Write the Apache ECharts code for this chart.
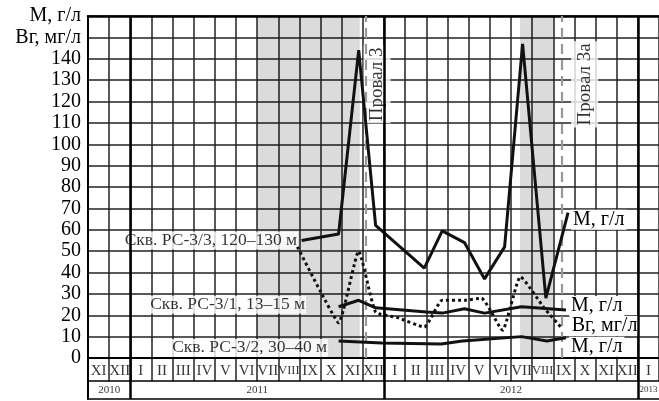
<!DOCTYPE html>
<html>
<head>
<meta charset="utf-8">
<script src="https://cdn.jsdelivr.net/npm/echarts@6/dist/echarts.min.js"></script>
<style>html,body{margin:0;padding:0;background:#fff}#c{width:659px;height:401px}</style>
</head>
<body>
<div id="c"></div>
<script>
// ---- data (x = months counted from the start of XI 2010) ----
const months = ['XI','XII','I','II','III','IV','V','VI','VII','VIII','IX','X','XI','XII','I','II','III','IV','V','VI','VII','VIII','IX','X','XI','XII','I'];
const years = ['2010','2011','2012','2013'];
const yTopLabels = {160: 'М, г/л', 150: 'Вг, мг/л'};

const m33X = [10.1, 11.85, 12.8, 13.6, 15.9, 16.75, 17.8, 18.75, 19.7, 20.55, 21.65, 22.7];
const m33Y = [55, 58, 144, 62, 42, 59.5, 54, 37, 52, 147, 28, 68];
const br33X = [9.9, 11.0, 11.85, 12.8, 13.6, 14.6, 15.9, 16.75, 17.8, 18.6, 19.6, 20.45, 21.6, 22.4];
const br33Y = [52, 31, 16.5, 50, 21.5, 19, 14.5, 27, 27, 28, 13, 38, 23, 14];
const m31X = [11.85, 12.8, 13.6, 16.0, 16.75, 17.8, 18.75, 20.5, 22.6];
const m31Y = [24, 27, 23.5, 21.5, 21, 23, 21, 24, 22.5];
const m32X = [11.85, 13.9, 16.7, 17.7, 20.5, 21.7, 22.6];
const m32Y = [8, 7, 6.5, 8, 10, 8, 9.5];

const lowPeriods = [[8.0, 12.85], [20.43, 22.0]];
const dipX = [13.15, 22.42];
const dipNames = ['Провал 3', 'Провал 3а'];
const wellNames = ['Скв. РС-3/3, 120–130 м', 'Скв. РС-3/1, 13–15 м', 'Скв. РС-3/2, 30–40 м'];

// ---- derived ----
const zip = (xs, ys) => xs.map((x, i) => [x, ys[i]]);
const yearStarts = months.map((m, i) => (i === 0 || m === 'I') ? i : -1).filter(i => i >= 0);
const yearBounds = yearStarts.filter(i => i > 0);
const N = months.length;

const FONT = "'Liberation Serif', 'Times New Roman', serif";
const GRID_C = '#222';
const L = 88, W = 572;

const hiddenY = (gi) => ({type: 'value', gridIndex: gi, min: 0, max: 1,
  axisLine: {show: true, lineStyle: {color: '#000', width: 2}},
  axisTick: {show: false}, axisLabel: {show: false}, splitLine: {show: false}});

const yearLine = (z) => ({
  silent: true, symbol: 'none', label: {show: false},
  lineStyle: {color: '#000', type: 'solid', width: 2.5},
  data: yearBounds.map(v => ({xAxis: v})), z: z
});

const solidLine = (name, xs, ys, endOffset) => ({
  name: name, type: 'line', xAxisIndex: 0, yAxisIndex: 0, z: 5,
  data: zip(xs, ys), showSymbol: false, symbol: 'none',
  lineStyle: {color: '#111', width: 3}, smooth: false,
  endLabel: {show: true, formatter: name, fontFamily: FONT, fontSize: 20, color: '#000',
    distance: 3, offset: endOffset, backgroundColor: '#fff', padding: [0, 2]}
});

const option = {
  animation: false,
  backgroundColor: '#fff',
  grid: [
    {left: L, top: 16, width: W, height: 342},
    {left: L, top: 358, width: W, height: 23},
    {left: L, top: 381, width: W, height: 18}
  ],
  xAxis: [
    {type: 'value', gridIndex: 0, min: 0, max: N, interval: 1,
      axisLine: {show: true, onZero: false, lineStyle: {color: '#000', width: 2}},
      axisTick: {show: false}, axisLabel: {show: false},
      splitLine: {show: true, lineStyle: {color: GRID_C, width: 1.5}}},
    {type: 'value', gridIndex: 0, position: 'top', min: 0, max: N,
      axisLine: {show: true, onZero: false, lineStyle: {color: '#000', width: 2.5}},
      axisTick: {show: false}, axisLabel: {show: false}, splitLine: {show: false}},
    {type: 'value', gridIndex: 1, min: 0, max: N, interval: 1,
      axisLine: {show: true, onZero: false, lineStyle: {color: '#000', width: 1.6}},
      axisTick: {show: false}, axisLabel: {show: false},
      splitLine: {show: true, lineStyle: {color: GRID_C, width: 1.5}}},
    {type: 'value', gridIndex: 2, min: 0, max: N,
      axisLine: {show: true, onZero: false, lineStyle: {color: '#000', width: 1.6}},
      axisTick: {show: false}, axisLabel: {show: false}, splitLine: {show: false}}
  ],
  yAxis: [
    {type: 'value', gridIndex: 0, min: 0, max: 160, interval: 10,
      axisLine: {show: true, lineStyle: {color: '#000', width: 2}},
      axisTick: {show: false},
      axisLabel: {color: '#000', fontFamily: FONT, fontSize: 20, margin: 7,
        formatter: v => yTopLabels[v] || String(v)},
      splitLine: {show: true, lineStyle: {color: GRID_C, width: 1.5}}},
    hiddenY(1),
    hiddenY(2)
  ],
  series: [
    // well labels (under the shading)
    {type: 'scatter', xAxisIndex: 0, yAxisIndex: 0, z: 1, silent: true,
      symbolSize: 1, itemStyle: {color: 'rgba(0,0,0,0)'},
      data: [
        {value: [m33X[0], m33Y[0]], name: wellNames[0], label: {distance: 3, offset: [0, 0]}},
        {value: [m31X[0], m31Y[0]], name: wellNames[1], label: {distance: 32, offset: [0, -2]}},
        {value: [m32X[0], m32Y[0]], name: wellNames[2], label: {distance: 10, offset: [0, 7]}}
      ],
      label: {show: true, position: 'left', formatter: p => p.name, fontFamily: FONT,
        fontSize: 17.5, color: '#000', backgroundColor: '#fff', padding: [0, 1]}},
    // low-water shading
    {type: 'line', xAxisIndex: 0, yAxisIndex: 0, z: 2, data: [], silent: true,
      markArea: {silent: true, itemStyle: {color: 'rgba(0,0,0,0.14)'},
        data: lowPeriods.map(p => [{xAxis: p[0]}, {xAxis: p[1]}])}},
    // dips: dashed lines + rotated captions
    {type: 'scatter', xAxisIndex: 0, yAxisIndex: 0, z: 3, silent: true,
      symbolSize: 1, itemStyle: {color: 'rgba(0,0,0,0)'},
      data: [
        {value: [dipX[0] + 0.52, 128], name: dipNames[0]},
        {value: [dipX[1] + 1.06, 128], name: dipNames[1]}
      ],
      label: {show: true, position: 'inside', rotate: 90, formatter: p => p.name,
        fontFamily: FONT, fontSize: 19, color: '#000', backgroundColor: '#fff', padding: [4, 2]},
      markLine: {silent: true, symbol: 'none', label: {show: false},
        lineStyle: {color: '#999', type: [10, 6], width: 2.2},
        data: dipX.map(v => ({xAxis: v}))}},
    // measured series
    solidLine('М, г/л', m33X, m33Y, [0, 7]),
    {name: 'Вг, мг/л', type: 'line', xAxisIndex: 0, yAxisIndex: 0, z: 5,
      data: zip(br33X, br33Y), showSymbol: false, symbol: 'none', smooth: 0.15,
      lineStyle: {color: '#111', width: 3, type: [3, 3]},
      endLabel: {show: true, formatter: 'Вг, мг/л', fontFamily: FONT, fontSize: 20, color: '#000',
        distance: 8, offset: [0, -2], backgroundColor: '#fff', padding: [0, 2]}},
    solidLine('М, г/л', m31X, m31Y, [0, -4]),
    solidLine('М, г/л', m32X, m32Y, [0, 9]),
    // year boundaries in the plot
    {type: 'line', xAxisIndex: 0, yAxisIndex: 0, z: 6, data: [], silent: true, markLine: yearLine(6)},
    // month row
    {type: 'scatter', xAxisIndex: 2, yAxisIndex: 1, z: 3, silent: true,
      symbolSize: 1, itemStyle: {color: 'rgba(0,0,0,0)'},
      data: months.map((m, i) => ({value: [i + 0.5, 0.45], name: m,
        label: {fontSize: m.length > 3 ? 12.5 : 15}})),
      label: {show: true, position: 'inside', formatter: p => p.name, fontFamily: FONT, color: '#000'},
      markLine: yearLine(6)},
    // year row
    {type: 'scatter', xAxisIndex: 3, yAxisIndex: 2, z: 3, silent: true,
      symbolSize: 1, itemStyle: {color: 'rgba(0,0,0,0)'},
      data: years.map((y, k) => {
        const s = yearStarts[k], e = (k + 1 < yearStarts.length) ? yearStarts[k + 1] : N;
        return {value: [(s + e) / 2, 0.5], name: y, label: {fontSize: (e - s) < 2 ? 9 : 11}};
      }),
      label: {show: true, position: 'inside', formatter: p => p.name, fontFamily: FONT, color: '#000'},
      markLine: yearLine(6)}
  ]
};

const chart = echarts.init(document.getElementById('c'), null, {renderer: 'canvas'});
chart.setOption(option);
</script>
</body>
</html>
